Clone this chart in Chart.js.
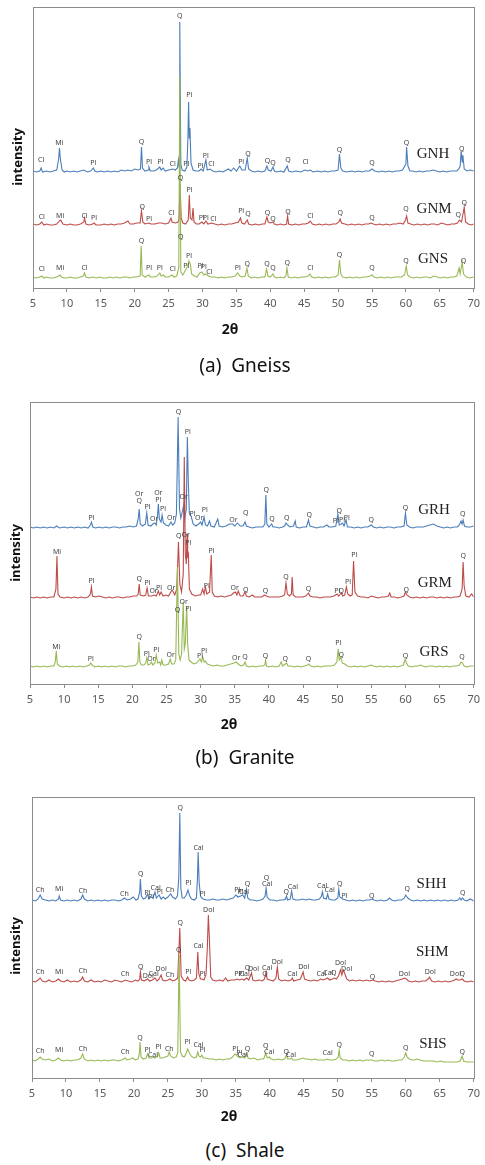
<!DOCTYPE html>
<html>
<head>
<meta charset="utf-8">
<script src="https://cdn.jsdelivr.net/npm/chart.js@4.4.1/dist/chart.umd.min.js"></script>
<style>
  body { margin: 0; background: #fff; }
  #page { position: relative; width: 485px; height: 1165px; overflow: hidden; }
  canvas { position: absolute; left: 0; }
  .ylab { position: absolute; font: bold 13px "Noto Sans", sans-serif; color: #111;
          transform: translate(-50%, -50%) rotate(-90deg); white-space: nowrap; }
  .xlab { position: absolute; font: bold 14px "Noto Sans", sans-serif; color: #111;
          transform: translate(-50%, -50%); white-space: nowrap; }
  .cap { position: absolute; left: 0; width: 490px; text-align: center; font: 19px "Noto Sans", sans-serif;
         color: #111; line-height: 20px; white-space: pre; }
</style>
</head>
<body>
<div id="page">
  <canvas id="chartA" width="485" height="320" style="top:0px"></canvas>
  <canvas id="chartB" width="485" height="320" style="top:395px"></canvas>
  <canvas id="chartC" width="485" height="320" style="top:790px"></canvas>
  <div class="ylab" style="left:17px;top:157px">intensity</div>
  <div class="ylab" style="left:15px;top:553px">intensity</div>
  <div class="ylab" style="left:15px;top:946px">intensity</div>
  <div class="xlab" style="left:230px;top:328px">2θ</div>
  <div class="xlab" style="left:229px;top:723px">2θ</div>
  <div class="xlab" style="left:229px;top:1115px">2θ</div>
  <div class="cap" style="top:355px">(a)  Gneiss</div>
  <div class="cap" style="top:747px">(b)  Granite</div>
  <div class="cap" style="top:1140px">(c)  Shale</div>
</div>
<script>
// x tick values (2θ)
const xTicks = [5, 10, 15, 20, 25, 30, 35, 40, 45, 50, 55, 60, 65, 70];

// ---- (a) Gneiss : [2θ, intensity] ----
const gnh = [[5,117],[5.5,116],[6,117],[6.2,120],[6.4,116],[7,117],[7.5,116],[8,117],[8.5,118],[8.8,130],[8.9,140],[9.05,128],[9.3,118],[9.6,116],[10,117],[10.5,116],[11,117],[11.5,116],[12,117],[12.5,118],[13,116],[13.5,117],[13.9,120],[14.1,117],[14.5,116],[15,117],[15.5,116],[16,117],[16.5,116],[17,117],[17.5,116],[18,118],[18.5,117],[19,118],[19.5,117],[20,119],[20.5,118],[20.85,119],[21,141],[21.15,120],[21.5,117],[22,118],[22.1,121],[22.3,117],[22.8,117],[23.2,118],[23.7,121],[23.9,118],[24.2,120],[24.5,117],[25,118],[25.6,119],[26,118],[26.3,120],[26.45,128],[26.55,121],[26.65,266],[26.8,124],[27.0,118],[27.4,117],[27.7,121],[27.85,150],[27.95,186],[28.05,150],[28.15,160],[28.3,125],[28.6,118],[29,117],[29.5,117],[29.8,119],[30.1,117],[30.5,128],[30.7,118],[31.1,119],[31.5,117],[32,116],[32.5,117],[33,116],[33.8,119],[34.2,117],[34.6,120],[35,117],[35.5,122],[35.8,118],[36.3,118],[36.6,130],[36.8,119],[37.2,117],[37.7,116],[38.2,117],[38.7,116],[39.2,117],[39.5,122],[39.7,118],[40.1,117],[40.4,121],[40.6,117],[41,116],[41.5,117],[42,116],[42.5,122],[42.7,117],[43.2,116],[43.8,117],[44.5,116],[45.1,118],[45.5,117],[45.9,118],[46.3,116],[47,117],[47.5,116],[48,117],[48.5,116],[49,117],[49.5,117],[50,118],[50.2,134],[50.4,120],[50.7,117],[51.2,116],[52,117],[52.5,116],[53,117],[53.5,116],[54,117],[54.6,117],[55,119],[55.4,117],[56,116],[56.5,117],[57,116],[57.5,117],[58,116],[58.5,117],[59,117],[59.5,118],[60,124],[60.1,141],[60.3,122],[60.6,117],[61,117],[61.5,116],[62,117],[62.5,116],[63,117],[63.5,117],[64,118],[64.5,117],[65,116],[65.5,117],[66,116],[66.5,117],[67,117],[67.5,117],[67.8,119],[68.0,122],[68.15,137],[68.3,126],[68.4,133],[68.6,119],[69,117],[69.5,118],[70,117]];
const gnm = [[5,64],[5.5,63],[6,64],[6.3,66],[6.6,63],[7,64],[7.5,63],[8,63],[8.5,64],[8.9,67],[9.1,68],[9.4,64],[10,63],[10.5,64],[11,63],[11.5,63],[12,64],[12.5,66],[12.6,70],[12.8,64],[13.3,63],[13.8,64],[14,65],[14.3,63],[15,63],[15.5,64],[16,63],[16.5,64],[17,63],[17.5,64],[18,64],[18.5,65],[19,67],[19.3,64],[19.8,64],[20.3,65],[20.8,65],[21,77],[21.2,66],[21.5,64],[22.1,65],[22.4,64],[23,64],[23.5,65],[24,65],[24.5,64],[25,65],[25.35,70],[25.5,66],[26,65],[26.4,66],[26.55,70],[26.7,104],[26.85,70],[27.1,65],[27.5,64],[27.9,68],[28.05,93],[28.2,70],[28.45,68],[28.6,80],[28.75,66],[29.1,64],[29.5,64],[29.9,66],[30.2,64],[30.5,67],[30.8,64],[31.4,65],[31.8,64],[32.3,63],[32.8,64],[33.3,63],[33.8,64],[34.3,64],[34.8,65],[35.3,66],[35.6,70],[35.8,65],[36.2,64],[36.6,68],[36.8,64],[37.3,63],[37.8,64],[38.3,63],[38.8,64],[39.2,64],[39.5,71],[39.7,66],[40,65],[40.4,66],[40.6,64],[41,63],[41.5,64],[42,63],[42.4,64],[42.55,72],[42.7,64],[43.2,63],[43.7,64],[44.2,63],[44.7,64],[45.2,64],[45.6,65],[45.9,67],[46.2,64],[46.7,63],[47.2,64],[47.7,63],[48.2,64],[48.7,63],[49.2,64],[49.7,64],[50.1,66],[50.3,69],[50.5,65],[51,64],[51.5,63],[52,64],[52.5,63],[53,64],[53.5,63],[54,64],[54.5,64],[54.9,65],[55.2,64],[55.6,63],[56.1,64],[56.6,63],[57.1,64],[57.6,63],[58.1,64],[58.6,64],[59.1,65],[59.6,64],[59.95,68],[60.1,72],[60.3,65],[60.7,64],[61.2,63],[61.7,64],[62.2,63],[62.7,64],[63.2,63],[63.7,64],[64.2,64],[64.7,63],[65.2,65],[65.7,64],[66.2,63],[66.7,64],[67.2,64],[67.6,65],[67.9,68],[68.2,66],[68.45,75],[68.6,81],[68.8,66],[69.2,64],[69.6,63],[70,64]];
const gns = [[5,11],[5.5,10],[6,11],[6.3,12],[6.6,10],[7,11],[7.5,10],[8,10],[8.5,11],[9,13],[9.2,11],[9.6,10],[10,10],[10.5,11],[11,10],[11.5,10],[12,11],[12.4,12],[12.6,15],[12.8,11],[13.3,10],[13.8,11],[14.3,10],[14.8,11],[15.3,10],[15.8,10],[16.3,11],[16.8,10],[17.3,11],[17.8,10],[18.3,11],[18.8,11],[19.3,10],[19.8,11],[20.3,11],[20.8,12],[20.95,42],[21.1,13],[21.5,11],[22.1,13],[22.3,11],[22.8,11],[23.3,12],[23.7,15],[23.9,12],[24.2,13],[24.5,11],[25,11],[25.5,13],[25.8,11],[26.2,12],[26.5,20],[26.65,211],[26.8,16],[27.1,13],[27.5,18],[27.8,22],[28.0,27],[28.2,24],[28.4,14],[28.8,12],[29.2,11],[29.6,15],[29.9,16],[30.2,13],[30.5,14],[30.9,12],[31.3,11],[31.8,11],[32.3,10],[32.8,11],[33.3,10],[33.8,11],[34.3,11],[34.8,12],[35.2,15],[35.5,12],[35.9,11],[36.3,12],[36.55,20],[36.75,12],[37.2,10],[37.7,11],[38.2,10],[38.7,11],[39.2,11],[39.45,19],[39.65,12],[40,11],[40.4,14],[40.6,11],[41,10],[41.5,11],[42,10],[42.3,12],[42.45,20],[42.65,11],[43.1,10],[43.6,11],[44.1,10],[44.6,11],[45.1,11],[45.6,12],[45.85,14],[46.1,11],[46.6,10],[47.1,11],[47.6,10],[48.1,11],[48.6,10],[49.1,11],[49.6,11],[50,13],[50.2,28],[50.4,14],[50.7,11],[51.2,10],[51.7,11],[52.2,10],[52.7,11],[53.2,10],[53.7,11],[54.2,11],[54.7,12],[55,13],[55.3,11],[55.8,10],[56.3,11],[56.8,10],[57.3,11],[57.8,10],[58.3,11],[58.8,11],[59.3,11],[59.8,13],[60.05,22],[60.25,13],[60.6,11],[61.1,10],[61.6,11],[62.1,10],[62.6,11],[63.1,11],[63.6,10],[64.1,12],[64.6,11],[65.1,10],[65.6,11],[66.1,10],[66.6,11],[67.1,11],[67.5,12],[67.85,20],[68.0,14],[68.3,26],[68.5,14],[68.9,11],[69.4,10],[70,11]];

// peak labels [2θ, intensity, phase]
const gnhPeaks = [[6.2,128,'Cl'],[8.9,145,'Mi'],[13.9,125,'Pl'],[21,146,'Q'],[22.1,126,'Pl'],[23.8,126,'Pl'],[25.6,124,'Cl'],[27.6,124,'Pl'],[26.65,272,'Q'],[28.05,193,'Pl'],[29.7,122,'Pl'],[30.5,132,'Pl'],[31.3,124,'Cl'],[35.7,126,'Pl'],[36.7,134,'Q'],[39.6,127,'Q'],[40.4,125,'Q'],[42.6,128,'Q'],[45.2,126,'Cl'],[50.2,138,'Q'],[55.0,125,'Q'],[60.1,145,'Q'],[68.25,139,'Q']];
const gnmPeaks = [[6.3,71,'Cl'],[9.0,72,'Mi'],[12.6,72,'Cl'],[14.0,70,'Pl'],[21.1,81,'Q'],[22.1,69,'Pl'],[25.4,75,'Cl'],[26.75,110,'Q'],[28.1,98,'Pl'],[29.9,70,'Pl'],[30.5,70,'Pl'],[31.6,69,'Cl'],[35.7,77,'Pl'],[36.7,74,'Q'],[39.6,75,'Q'],[40.4,69,'Q'],[42.6,76,'Q'],[45.9,72,'Cl'],[50.3,75,'Q'],[55.0,70,'Q'],[60.0,79,'Q'],[67.7,73,'Q'],[68.6,85,'Q']];
const gnsPeaks = [[6.3,19,'Cl'],[9.0,20,'Mi'],[12.6,20,'Cl'],[21.0,47,'Q'],[22.1,20,'Pl'],[23.7,20,'Pl'],[25.6,19,'Cl'],[26.8,51,'Q'],[27.6,22,'Pl'],[28.0,32,'Pl'],[29.7,22,'Pl'],[30.2,21,'Pl'],[31.0,16,'Cl'],[35.2,20,'Pl'],[36.6,24,'Q'],[39.5,24,'Q'],[40.4,20,'Q'],[42.5,25,'Q'],[45.9,20,'Cl'],[50.2,33,'Q'],[55.0,20,'Q'],[60.0,27,'Q'],[68.5,27,'Q']];
const gneissNames = [[64.0,134,'GNH'],[64.15,79,'GNM'],[64.0,29,'GNS']];

// ---- (b) Granite ----
const grh = [[5,157],[5.5,156],[6,157],[6.5,156],[7,157],[7.5,156],[8,157],[8.5,156],[8.9,158],[9.3,156],[10,157],[10.5,156],[11,157],[11.5,156],[12,157],[12.5,156],[13,157],[13.5,156],[13.85,159],[14,162],[14.2,157],[14.6,156],[15.1,157],[15.6,156],[16.1,157],[16.6,156],[17.1,157],[17.6,157],[18.1,156],[18.6,157],[19.1,157],[19.6,158],[20.1,157],[20.6,158],[20.85,165],[21.0,175],[21.15,160],[21.5,158],[21.9,160],[22.1,171],[22.3,159],[22.7,158],[23.0,160],[23.3,161],[23.5,159],[23.7,170],[23.8,180],[23.95,165],[24.2,162],[24.35,169],[24.55,161],[24.9,159],[25.3,158],[25.65,162],[25.9,159],[26.2,161],[26.45,170],[26.7,267],[26.9,175],[27.1,166],[27.3,172],[27.5,178],[27.65,165],[27.9,175],[28.05,247],[28.2,200],[28.35,170],[28.6,168],[28.9,160],[29.3,158],[29.7,160],[30.0,162],[30.2,159],[30.5,167],[30.7,159],[31.0,158],[31.3,163],[31.5,158],[32.0,157],[32.5,165],[32.7,158],[33.2,157],[33.7,158],[34.2,160],[34.7,160],[35.0,158],[35.4,161],[35.8,158],[36.2,158],[36.5,162],[36.7,158],[37.1,157],[37.6,156],[38.1,157],[38.6,157],[39.1,157],[39.4,160],[39.55,189],[39.7,160],[40.0,157],[40.4,160],[40.6,157],[41.0,157],[41.5,156],[42.0,157],[42.3,158],[42.5,161],[42.75,159],[43.1,157],[43.6,158],[43.85,163],[44.0,157],[44.5,156],[45.0,157],[45.5,157],[45.8,164],[46.0,158],[46.5,157],[47.0,156],[47.5,157],[48.0,157],[48.5,159],[48.8,157],[49.3,157],[49.8,158],[50.1,170],[50.3,159],[50.6,160],[50.8,161],[51.0,158],[51.3,164],[51.5,157],[52.0,157],[52.5,156],[53.0,157],[53.5,156],[54.0,157],[54.5,157],[55.0,159],[55.3,157],[55.8,156],[56.3,157],[56.8,156],[57.3,157],[57.8,157],[58.3,156],[58.8,157],[59.3,157],[59.8,158],[60.0,171],[60.2,159],[60.6,157],[61.1,156],[61.6,157],[62.1,157],[62.6,157],[63.1,158],[63.6,159],[64.1,160],[64.6,158],[65.1,157],[65.6,156],[66.1,157],[66.6,156],[67.1,157],[67.6,157],[67.9,159],[68.15,163],[68.3,160],[68.45,164],[68.65,158],[69.0,157],[69.5,157],[70,158]];
const grm = [[5,87],[5.5,86],[6,87],[6.5,86],[7,87],[7.5,86],[8,87],[8.5,87],[8.8,95],[8.95,128],[9.1,90],[9.4,87],[10,86],[10.5,87],[11,86],[11.5,87],[12,86],[12.5,87],[13,86],[13.5,87],[13.85,90],[14.0,97],[14.15,88],[14.6,87],[15.1,88],[15.6,87],[16.1,86],[16.6,87],[17.1,86],[17.6,87],[18.1,87],[18.6,86],[19.1,87],[19.6,87],[20.1,88],[20.6,88],[20.85,90],[21.0,100],[21.15,89],[21.6,88],[21.95,89],[22.15,96],[22.35,88],[22.8,88],[23.2,89],[23.5,88],[23.8,93],[24.0,89],[24.2,92],[24.5,88],[24.9,89],[25.3,88],[25.8,94],[26.0,92],[26.2,89],[26.5,95],[26.75,142],[26.95,100],[27.2,92],[27.45,110],[27.6,227],[27.75,130],[27.9,120],[28.0,150],[28.1,128],[28.2,130],[28.35,95],[28.7,90],[29.2,88],[29.7,89],[30.0,89],[30.3,95],[30.5,90],[30.7,97],[30.9,90],[31.3,92],[31.55,129],[31.7,92],[32.0,88],[32.5,87],[33.0,88],[33.5,87],[34.0,88],[34.5,89],[34.8,91],[35.1,92],[35.3,89],[35.5,93],[35.8,88],[36.2,88],[36.5,92],[36.7,88],[37.1,87],[37.6,89],[37.9,87],[38.4,87],[38.9,87],[39.4,89],[39.6,88],[40.0,87],[40.5,87],[41.0,87],[41.5,87],[42.0,88],[42.3,89],[42.5,101],[42.7,90],[43.0,88],[43.3,90],[43.4,107],[43.55,89],[43.9,87],[44.4,87],[44.9,87],[45.4,88],[45.8,91],[46.0,88],[46.5,87],[47.0,87],[47.5,86],[48.0,87],[48.5,87],[49.0,87],[49.5,88],[50.0,90],[50.2,88],[50.6,91],[50.8,88],[51.1,89],[51.35,97],[51.55,90],[51.9,88],[52.2,89],[52.4,123],[52.6,92],[53.0,88],[53.5,87],[54.0,87],[54.5,86],[55.0,88],[55.5,87],[56.0,86],[56.5,87],[57.0,87],[57.5,88],[57.7,91],[57.9,87],[58.4,87],[58.9,86],[59.4,87],[59.8,88],[60.0,92],[60.2,89],[60.6,87],[61.1,86],[61.6,87],[62.1,86],[62.6,87],[63.1,86],[63.6,87],[64.1,87],[64.6,86],[65.1,87],[65.6,86],[66.1,87],[66.6,86],[67.1,87],[67.6,87],[68.0,88],[68.3,95],[68.45,122],[68.6,98],[68.85,88],[69.3,87],[69.7,90],[70,87]];
const grs = [[5,18],[5.5,17],[6,18],[6.5,17],[7,18],[7.5,17],[8,18],[8.5,18],[8.7,22],[8.85,33],[9.0,20],[9.3,18],[9.8,17],[10.3,18],[10.8,17],[11.3,18],[11.8,17],[12.3,18],[12.8,17],[13.3,18],[13.7,19],[13.9,21],[14.1,19],[14.5,17],[15.0,18],[15.5,17],[16.0,18],[16.5,17],[17.0,18],[17.5,17],[18.0,18],[18.5,18],[19.0,17],[19.5,18],[20.0,18],[20.5,19],[20.8,22],[20.95,42],[21.1,22],[21.3,19],[21.7,19],[21.95,21],[22.1,26],[22.3,19],[22.6,20],[22.8,22],[23.0,19],[23.3,21],[23.5,29],[23.7,21],[24.0,22],[24.15,19],[24.3,24],[24.5,19],[24.9,19],[25.3,20],[25.55,25],[25.75,20],[26.1,20],[26.35,24],[26.6,117],[26.8,30],[27.0,24],[27.2,30],[27.45,82],[27.6,35],[27.75,40],[27.95,78],[28.1,40],[28.3,24],[28.6,22],[29.0,20],[29.4,21],[29.9,25],[30.1,22],[30.3,27],[30.5,22],[30.7,23],[31.0,20],[31.4,19],[31.9,18],[32.4,19],[32.9,18],[33.4,18],[33.9,19],[34.4,20],[34.9,21],[35.2,22],[35.5,20],[35.9,18],[36.3,19],[36.5,22],[36.7,18],[37.1,17],[37.6,18],[38.1,17],[38.6,18],[39.1,18],[39.4,19],[39.5,24],[39.65,18],[40.0,17],[40.5,18],[41.0,17],[41.5,18],[41.8,22],[42.0,18],[42.4,20],[42.6,21],[42.8,18],[43.2,18],[43.7,17],[44.2,18],[44.7,17],[45.2,18],[45.7,19],[45.85,20],[46.1,18],[46.6,17],[47.1,18],[47.6,17],[48.1,18],[48.6,18],[49.1,18],[49.6,19],[49.95,22],[50.15,35],[50.3,24],[50.55,27],[50.75,21],[51.1,20],[51.5,18],[52.0,17],[52.5,18],[53.0,17],[53.5,18],[54.0,17],[54.5,18],[55.0,19],[55.3,18],[55.8,17],[56.3,18],[56.8,17],[57.3,18],[57.8,17],[58.3,18],[58.8,17],[59.3,18],[59.7,19],[59.95,25],[60.15,21],[60.4,18],[60.9,17],[61.4,18],[61.9,18],[62.2,19],[62.5,18],[63.0,17],[63.5,18],[64.0,18],[64.5,17],[65.0,18],[65.5,17],[66.0,18],[66.5,17],[67.0,18],[67.5,18],[67.9,19],[68.15,22],[68.35,21],[68.6,18],[69.0,17],[69.5,18],[70,18]];

const grhPeaks = [[14.0,166,'Pl'],[21.0,183,'Q'],[21.0,190,'Or'],[22.2,177,'Pl'],[23.2,165,'Or'],[23.8,184,'Pl'],[23.8,191,'Or'],[24.5,175,'Pl'],[25.7,166,'Or'],[26.75,272,'Q'],[27.5,187,'Or'],[28.1,252,'Pl'],[28.8,170,'Pl'],[29.8,166,'Or'],[30.6,174,'Pl'],[34.8,164,'Or'],[36.6,171,'Q'],[39.6,194,'Q'],[40.45,165,'Q'],[42.6,166,'Q'],[45.9,169,'Q'],[49.8,163,'Pl'],[50.3,173,'Q'],[50.7,164,'Pl'],[51.4,166,'Pl'],[55.0,164,'Q'],[60.0,176,'Q'],[68.4,170,'Q']];
const grmPeaks = [[8.95,132,'Mi'],[14.0,103,'Pl'],[21.0,105,'Q'],[22.2,101,'Pl'],[23.1,93,'Or'],[23.9,96,'Pl'],[25.7,96,'Or'],[26.8,148,'Q'],[27.8,149,'Or'],[28.2,141,'Pl'],[30.9,98,'Pl'],[31.6,133,'Pl'],[35.0,96,'Or'],[36.6,94,'Q'],[39.5,93,'Q'],[42.5,107,'Q'],[45.8,95,'Q'],[50.0,93,'Pl'],[50.6,93,'Q'],[51.6,102,'Pl'],[52.5,129,'Pl'],[60.1,94,'Q'],[68.45,128,'Q']];
const grsPeaks = [[8.85,37,'Mi'],[13.9,25,'Pl'],[21.0,47,'Q'],[22.1,30,'Pl'],[22.8,25,'Or'],[23.5,34,'Pl'],[25.6,29,'Or'],[26.6,74,'Q'],[27.5,82,'Or'],[28.2,75,'Pl'],[29.9,28,'Pl'],[30.5,33,'Pl'],[35.2,26,'Or'],[36.5,27,'Q'],[39.5,28,'Q'],[42.4,25,'Q'],[45.8,25,'Q'],[50.15,41,'Pl'],[50.6,29,'Q'],[60.0,28,'Q'],[68.3,27,'Q']];
const graniteNames = [[64.2,174,'GRH'],[64.3,101,'GRM'],[64.2,32,'GRS']];

// ---- (c) Shale ----
const shh = [[5,178],[5.5,177],[5.9,179],[6.2,183],[6.5,179],[7.0,178],[7.5,177],[8.0,178],[8.5,177],[8.9,179],[9.0,182],[9.2,178],[9.7,177],[10.2,178],[10.7,177],[11.2,178],[11.7,177],[12.2,179],[12.45,183],[12.7,179],[13.2,177],[13.7,178],[14.2,177],[14.7,178],[15.2,177],[15.7,178],[16.2,177],[16.7,178],[17.2,178],[17.7,177],[18.2,178],[18.6,180],[19.0,178],[19.5,179],[19.9,181],[20.3,178],[20.6,179],[20.85,186],[20.95,199],[21.1,182],[21.4,179],[21.7,180],[22.0,184],[22.2,179],[22.5,181],[22.8,180],[23.1,186],[23.3,180],[23.7,183],[24.0,179],[24.3,181],[24.6,179],[25.0,181],[25.4,184],[25.7,181],[26.1,179],[26.4,182],[26.6,200],[26.75,265],[26.9,190],[27.1,180],[27.4,180],[27.7,183],[27.95,188],[28.2,182],[28.5,179],[28.9,178],[29.2,180],[29.35,200],[29.45,226],[29.6,195],[29.8,182],[30.0,180],[30.2,179],[30.6,178],[31.1,178],[31.6,179],[32.1,178],[32.6,178],[33.1,179],[33.6,178],[34.1,179],[34.6,180],[35.0,183],[35.3,181],[35.7,182],[36.0,183],[36.3,180],[36.55,189],[36.75,180],[37.1,178],[37.6,178],[38.1,177],[38.6,178],[39.0,179],[39.3,182],[39.45,190],[39.6,181],[40.0,178],[40.5,178],[41.0,177],[41.5,178],[42.0,178],[42.3,179],[42.45,182],[42.6,178],[43.0,179],[43.2,187],[43.4,179],[43.8,178],[44.3,178],[44.8,179],[45.3,178],[45.8,179],[46.3,178],[46.8,178],[47.3,179],[47.6,182],[47.75,186],[47.9,180],[48.3,179],[48.5,184],[48.7,179],[49.1,178],[49.6,178],[50.0,180],[50.15,189],[50.3,181],[50.7,179],[51.2,178],[51.7,177],[52.2,178],[52.7,177],[53.2,178],[53.7,177],[54.2,178],[54.7,178],[55.0,179],[55.3,178],[55.8,177],[56.3,178],[56.8,177],[57.3,178],[57.6,180],[57.9,178],[58.4,177],[58.9,178],[59.4,178],[59.8,180],[60.0,183],[60.3,180],[60.7,178],[61.2,177],[61.7,178],[62.2,177],[62.7,178],[63.2,177],[63.7,178],[64.2,177],[64.7,178],[65.2,177],[65.7,178],[66.2,177],[66.7,178],[67.2,177],[67.7,178],[67.95,180],[68.15,178],[68.35,180],[68.6,178],[69.0,177],[69.5,179],[70,177]];
const shm = [[5,97],[5.5,96],[5.9,98],[6.2,100],[6.5,97],[7.0,96],[7.5,98],[8.0,96],[8.5,97],[8.9,99],[9.2,97],[9.7,96],[10.2,98],[10.7,96],[11.2,97],[11.7,96],[12.2,98],[12.45,101],[12.7,97],[13.2,96],[13.7,98],[14.2,96],[14.7,97],[15.2,96],[15.7,98],[16.2,97],[16.7,96],[17.2,98],[17.7,97],[18.2,96],[18.7,98],[19.2,97],[19.7,96],[20.2,98],[20.6,97],[20.85,99],[20.95,106],[21.1,98],[21.5,97],[22.0,99],[22.3,97],[22.7,98],[23.1,100],[23.4,97],[23.7,99],[24.0,103],[24.2,98],[24.6,97],[25.0,98],[25.3,99],[25.7,97],[26.1,98],[26.45,100],[26.75,150],[26.95,102],[27.3,98],[27.6,97],[27.9,101],[28.1,98],[28.5,97],[28.9,98],[29.2,100],[29.4,126],[29.55,104],[29.8,99],[30.0,99],[30.3,98],[30.6,103],[30.8,130],[30.95,163],[31.1,140],[31.3,101],[31.6,98],[32.1,97],[32.6,98],[33.1,97],[33.5,100],[33.8,97],[34.3,98],[34.8,98],[35.2,99],[35.5,98],[35.9,99],[36.2,98],[36.6,100],[36.9,98],[37.3,105],[37.5,98],[37.9,97],[38.4,98],[38.9,97],[39.2,99],[39.45,106],[39.6,99],[40.0,98],[40.5,97],[40.9,100],[41.1,111],[41.3,99],[41.7,97],[42.2,98],[42.7,97],[43.1,98],[43.3,100],[43.5,97],[44.0,98],[44.5,99],[44.9,106],[45.1,99],[45.5,98],[46.0,97],[46.5,98],[47.0,97],[47.5,99],[47.8,98],[48.2,99],[48.5,100],[48.8,98],[49.2,99],[49.5,100],[49.8,99],[50.1,102],[50.4,108],[50.6,103],[50.8,108],[51.0,105],[51.3,99],[51.7,97],[52.2,98],[52.7,97],[53.2,98],[53.7,97],[54.2,98],[54.7,97],[55.1,98],[55.5,97],[56.0,96],[56.5,97],[57.0,96],[57.5,97],[58.0,96],[58.5,97],[59.0,98],[59.5,99],[59.8,100],[60.1,99],[60.4,97],[60.9,96],[61.4,97],[61.9,96],[62.4,97],[62.9,97],[63.3,99],[63.5,101],[63.8,97],[64.3,96],[64.8,97],[65.3,96],[65.8,97],[66.3,96],[66.8,97],[67.2,98],[67.4,99],[67.7,98],[68.0,98],[68.3,99],[68.6,97],[69.1,96],[69.6,97],[70,96]];
const shs = [[5,18],[5.5,17],[5.9,19],[6.2,21],[6.5,19],[7.0,18],[7.5,19],[8.0,17],[8.5,18],[8.9,20],[9.2,18],[9.7,17],[10.2,18],[10.7,17],[11.2,18],[11.7,18],[12.2,20],[12.45,24],[12.7,19],[13.2,17],[13.7,18],[14.2,17],[14.7,18],[15.2,17],[15.7,18],[16.2,17],[16.7,18],[17.2,18],[17.7,17],[18.2,18],[18.7,20],[19.0,18],[19.5,19],[19.8,20],[20.2,18],[20.6,19],[20.8,24],[20.9,36],[21.05,21],[21.4,19],[21.8,20],[22.0,24],[22.2,20],[22.6,20],[22.8,21],[23.1,20],[23.5,22],[23.65,25],[23.85,20],[24.2,20],[24.6,21],[25.0,22],[25.2,26],[25.4,22],[25.8,20],[26.2,21],[26.45,25],[26.65,123],[26.85,26],[27.1,22],[27.4,21],[27.7,25],[27.9,29],[28.1,26],[28.4,22],[28.8,20],[29.2,21],[29.4,26],[29.55,22],[29.8,21],[30.0,23],[30.2,20],[30.6,20],[31.1,19],[31.6,19],[32.1,18],[32.6,19],[33.1,18],[33.6,19],[34.1,19],[34.5,21],[34.9,24],[35.2,22],[35.6,20],[36.0,21],[36.3,20],[36.6,25],[36.8,20],[37.2,19],[37.7,20],[38.2,18],[38.7,19],[39.1,19],[39.4,25],[39.6,20],[39.9,21],[40.2,19],[40.7,18],[41.2,19],[41.7,18],[42.2,19],[42.45,23],[42.65,19],[43.0,19],[43.2,20],[43.4,18],[43.9,18],[44.4,19],[44.9,20],[45.2,19],[45.6,19],[46.1,18],[46.6,19],[47.1,18],[47.6,18],[48.1,18],[48.5,19],[48.8,18],[49.3,18],[49.8,19],[50.05,21],[50.2,28],[50.35,20],[50.7,18],[51.2,18],[51.7,17],[52.2,18],[52.7,17],[53.2,18],[53.7,17],[54.2,18],[54.7,18],[55.0,18],[55.4,17],[55.9,17],[56.4,18],[56.9,17],[57.4,18],[57.9,17],[58.4,17],[58.9,18],[59.4,18],[59.8,21],[60.0,25],[60.2,21],[60.5,19],[60.9,18],[61.3,18],[61.7,19],[62.1,18],[62.6,17],[63.1,17],[63.6,17],[64.1,17],[64.6,16],[65.1,17],[65.6,16],[66.1,16],[66.6,16],[67.1,16],[67.6,16],[68.0,17],[68.3,22],[68.5,17],[69.0,16],[69.5,16],[70,16]];

const shhPeaks = [[6.2,188,'Ch'],[9.0,189,'Mi'],[12.5,187,'Ch'],[18.6,184,'Ch'],[21.0,204,'Q'],[22.0,185,'Pl'],[22.5,181,'Pl'],[23.2,190,'Cal'],[23.8,186,'Pl'],[25.3,188,'Ch'],[26.8,270,'Q'],[28.0,195,'Pl'],[29.5,230,'Cal'],[30.1,184,'Pl'],[35.2,188,'Pl'],[35.7,186,'Pl'],[36.2,186,'Cal'],[36.7,194,'Q'],[39.5,200,'Q'],[39.6,194,'Cal'],[42.4,186,'Q'],[43.4,191,'Cal'],[47.7,192,'Cal'],[48.8,188,'Cal'],[50.3,194,'Q'],[51.0,182,'Pl'],[55.0,182,'Q'],[60.2,189,'Q'],[68.4,185,'Q']];
const shmPeaks = [[6.2,106,'Ch'],[9.0,106,'Mi'],[12.5,107,'Ch'],[18.7,104,'Ch'],[21.0,111,'Q'],[22.1,102,'Dol'],[22.9,104,'Cal'],[24.0,109,'Dol'],[25.3,103,'Ch'],[26.8,155,'Q'],[28.0,106,'Pl'],[29.5,132,'Cal'],[30.1,104,'Pl'],[31.0,168,'Dol'],[35.2,104,'Pl'],[35.8,104,'Pl'],[36.3,104,'Cal'],[36.7,110,'Q'],[37.6,109,'Dol'],[39.3,104,'Q'],[39.6,110,'Cal'],[41.1,116,'Dol'],[43.3,104,'Cal'],[45.0,111,'Dol'],[47.6,104,'Cal'],[48.6,105,'Cal'],[49.4,105,'Q'],[50.4,115,'Dol'],[51.3,109,'Dol'],[55.1,101,'Q'],[59.8,104,'Dol'],[63.6,106,'Dol'],[67.3,104,'Dol'],[68.3,104,'Q']];
const shsPeaks = [[6.2,27,'Ch'],[9.0,28,'Mi'],[12.5,29,'Ch'],[18.7,26,'Ch'],[20.9,40,'Q'],[22.0,28,'Pl'],[22.8,23,'Cal'],[23.6,31,'Pl'],[25.2,29,'Ch'],[26.6,128,'Q'],[27.9,36,'Pl'],[29.5,33,'Cal'],[30.1,28,'Pl'],[34.9,29,'Pl'],[35.5,25,'Pl'],[36.0,23,'Cal'],[36.7,29,'Q'],[39.4,32,'Q'],[39.9,26,'Cal'],[42.4,26,'Q'],[43.1,23,'Cal'],[48.5,25,'Cal'],[50.2,33,'Q'],[55.0,24,'Q'],[60.0,30,'Q'],[68.3,26,'Q']];
const shaleNames = [[63.8,194,'SHH'],[63.9,126,'SHM'],[64.0,34,'SHS']];

const colors = ['#4a7ebb', '#be4b48', '#98b954'];

// draws the frame, the phase labels and the sample names through the scales
const labelPlugin = {
  id: 'peakLabels',
  afterDatasetsDraw(chart, args, opts) {
    const { ctx, chartArea: a, scales: { x, y } } = chart;
    ctx.save();
    ctx.strokeStyle = '#8c8c8c';
    ctx.lineWidth = 1;
    ctx.strokeRect(Math.round(a.left) + 0.5, Math.round(a.top) + 0.5, Math.round(a.width), Math.round(a.height));
    ctx.textAlign = 'center';
    ctx.textBaseline = 'middle';
    ctx.font = '7px "Noto Sans", sans-serif';
    ctx.fillStyle = '#444';
    opts.peaks.forEach(list => list.forEach(p => {
      ctx.fillText(p[2], x.getPixelForValue(p[0]), y.getPixelForValue(p[1]));
    }));
    ctx.font = '15px "Liberation Serif", serif';
    ctx.fillStyle = '#222';
    opts.names.forEach(n => ctx.fillText(n[2], x.getPixelForValue(n[0]), y.getPixelForValue(n[1])));
    ctx.restore();
  }
};

function makeChart(id, series, peaks, names, left, right, plotH, axisH) {
  const ctx = document.getElementById(id).getContext('2d');
  return new Chart(ctx, {
    type: 'line',
    data: {
      datasets: series.map((s, i) => ({
        data: s.map(p => ({ x: p[0], y: p[1] })),
        borderColor: colors[i],
        borderWidth: 1.1,
        pointRadius: 0,
        tension: 0,
        fill: false,
        order: 3 - i
      }))
    },
    options: {
      responsive: false,
      animation: false,
      events: [],
      layout: { padding: { left: left, right: 485 - right, top: 7, bottom: 0 } },
      plugins: {
        legend: { display: false },
        tooltip: { enabled: false },
        peakLabels: { peaks: peaks, names: names }
      },
      scales: {
        x: {
          type: 'linear',
          min: 5,
          max: 70,
          afterBuildTicks: scale => { scale.ticks = xTicks.map(v => ({ value: v })); },
          afterFit: scale => { scale.height = axisH; },
          grid: { drawOnChartArea: false, drawTicks: true, tickLength: 4, color: '#8c8c8c' },
          border: { display: true, color: '#8c8c8c' },
          ticks: { color: '#595959', font: { family: 'Noto Sans', size: 11 }, padding: 5, maxRotation: 0 }
        },
        y: { display: false, min: 0, max: plotH }
      }
    },
    plugins: [labelPlugin]
  });
}

makeChart('chartA', [gnh, gnm, gns], [gnhPeaks, gnmPeaks, gnsPeaks], gneissNames, 33, 478, 281, 32);
makeChart('chartB', [grh, grm, grs], [grhPeaks, grmPeaks, grsPeaks], graniteNames, 30, 479, 282, 31);
makeChart('chartC', [shh, shm, shs], [shhPeaks, shmPeaks, shsPeaks], shaleNames, 32, 481, 281, 32);
</script>
</body>
</html>
